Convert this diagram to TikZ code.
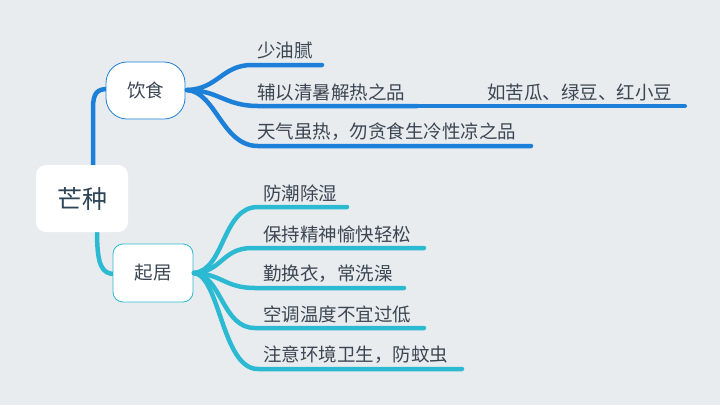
\documentclass[tikz,border=0pt]{standalone}
\usepackage{fontspec}
\newfontfamily\cjk{Noto Sans CJK SC}
\definecolor{bg}{HTML}{E9ECEF}
\definecolor{blueline}{HTML}{1D80D8}
\definecolor{tealline}{HTML}{2BBAD1}
\definecolor{txt}{HTML}{3C4652}
\definecolor{roottxt}{HTML}{2E4558}
\tikzset{
  topic/.style={anchor=west, inner sep=0pt, text=txt, font=\cjk\fontsize{18.5}{20}\selectfont},
  bluebr/.style={draw=blueline, line width=4.5pt, line cap=round},
  tealbr/.style={draw=tealline, line width=4.5pt, line cap=round},
  mainbox/.style={fill=white, inner sep=0pt, text=txt, font=\cjk\fontsize{18.5}{20}\selectfont}
}
\begin{document}
\begin{tikzpicture}[x=1pt,y=-1pt]
\fill[bg] (0,0) rectangle (720,405);
\useasboundingbox (0,0) rectangle (720,405);

% coordinates of branch lines
\coordinate (rtop) at (93,166);
\coordinate (rbot) at (97,231);

% connectors root -> main topics (drawn first, under nodes)
\draw[bluebr] (rtop) -- (93,108) .. controls (93,92) and (98,89) .. (108,89);
\draw[tealbr] (rbot) .. controls (97,266) and (102,274) .. (115,274);

% root
\node[mainbox, rounded corners=10pt, minimum width=92pt, minimum height=67pt,
      text=roottxt, font=\cjk\fontsize{25}{27}\selectfont] (root) at (82,198.5) {芒种};

% main topics
\node[mainbox, draw=blueline, line width=0.8pt, rounded corners=21pt,
      minimum width=79pt, minimum height=57pt] (yinshi) at (145.5,90.5) {饮食};
\node[mainbox, draw=tealline, line width=0.8pt, rounded corners=10pt,
      minimum width=80pt, minimum height=58pt] (qiju) at (153,273) {起居};

% 饮食 subtopics
\node[topic] (y1) at (257,51) {少油腻};
\node[topic] (y2) at (257,92) {辅以清暑解热之品};
\node[topic] (y2a) at (487,92) {如苦瓜、绿豆、红小豆};
\node[topic] (y3) at (257,132) {天气虽热，勿贪食生冷性凉之品};

\coordinate (ys) at (187,90);
\coordinate (ye1) at (322,65);
\coordinate (ye2) at (417,106);
\coordinate (ye2a) at (685,106);
\coordinate (ye3) at (531,146);

\draw[bluebr] (ys) .. controls (218,89) and (222,65) .. (252,65) -- (ye1);
\draw[bluebr] (ys) .. controls (218,90) and (225,106) .. (258,106) -- (ye2);
\draw[bluebr, line width=4pt] (ye2) -- (ye2a);
\draw[bluebr] (ys) .. controls (216,92) and (222,146) .. (258,146) -- (ye3);

% 起居 subtopics
\node[topic] (q1) at (263,193) {防潮除湿};
\node[topic] (q2) at (263,234) {保持精神愉快轻松};
\node[topic] (q3) at (263,274) {勤换衣，常洗澡};
\node[topic] (q4) at (263,314) {空调温度不宜过低};
\node[topic] (q5) at (263,355) {注意环境卫生，防蚊虫};

\coordinate (qs) at (194,273);
\coordinate (qe1) at (347,207);
\coordinate (qe2) at (424,248);
\coordinate (qe3) at (404,288);
\coordinate (qe4) at (424,328);
\coordinate (qe5) at (462,369);

\draw[tealbr] (qs) .. controls (225,270) and (222,207) .. (258,207) -- (qe1);
\draw[tealbr] (qs) .. controls (222,272) and (222,248) .. (252,248) -- (qe2);
\draw[tealbr] (qs) .. controls (222,274) and (225,288) .. (255,288) -- (qe3);
\draw[tealbr] (qs) .. controls (222,276) and (222,328) .. (255,328) -- (qe4);
\draw[tealbr] (qs) .. controls (220,276) and (222,369) .. (258,369) -- (qe5);
\end{tikzpicture}
\end{document}
